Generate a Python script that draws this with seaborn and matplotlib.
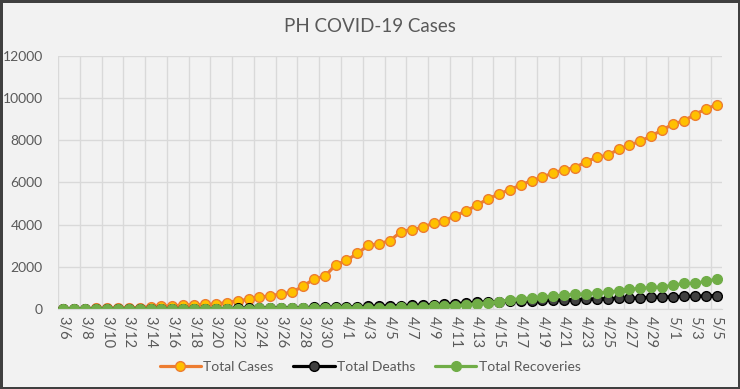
import matplotlib

matplotlib.use("Agg")
import matplotlib.pyplot as plt
import numpy as np
import pandas as pd
import seaborn as sns

# daily dates 3/6 .. 5/5 (category axis)
dates = pd.date_range("2020-03-06", "2020-05-05", freq="D")
date_labels = [f"{d.month}/{d.day}" for d in dates]

total_cases = [
    5, 6, 10, 24, 33, 49, 52, 64, 111, 140, 142, 187, 202, 217, 230, 307,
    380, 462, 552, 636, 707, 803, 1075, 1418, 1546, 2084, 2311, 2633, 3018,
    3094, 3246, 3660, 3764, 3870, 4076, 4195, 4428, 4648, 4932, 5223, 5453,
    5660, 5878, 6087, 6259, 6459, 6599, 6710, 6981, 7192, 7294, 7579, 7777,
    7958, 8212, 8488, 8772, 8928, 9223, 9485, 9684,
]
total_deaths = [
    1, 1, 1, 1, 1, 2, 5, 6, 8, 12, 12, 12, 17, 17, 18, 19, 25, 33, 35, 38,
    45, 54, 68, 71, 78, 88, 96, 107, 136, 144, 152, 163, 177, 182, 203, 221,
    247, 297, 315, 335, 349, 362, 387, 397, 409, 428, 437, 446, 462, 477,
    494, 501, 511, 530, 558, 568, 579, 603, 607, 623, 637,
]
total_recoveries = [
    1, 1, 1, 1, 1, 2, 2, 2, 2, 2, 2, 4, 5, 8, 8, 13, 15, 18, 26, 26, 28, 31,
    35, 42, 42, 49, 50, 51, 52, 57, 64, 73, 84, 96, 124, 140, 157, 197, 242,
    295, 353, 435, 487, 516, 572, 613, 654, 693, 722, 762, 792, 862, 932,
    975, 1023, 1043, 1124, 1214, 1214, 1315, 1408,
]

df = pd.DataFrame({
    "day": np.arange(len(dates)),
    "Total Cases": total_cases,
    "Total Deaths": total_deaths,
    "Total Recoveries": total_recoveries,
})

sns.set_style("white")
plt.rcParams["font.family"] = ["Lato", "DejaVu Sans"]

bg = "#F2F2F2"
grid_c = "#D9D9D9"
text_c = "#595959"

fig = plt.figure(figsize=(7.4, 3.89), dpi=100, facecolor=bg)
fig.patch.set_edgecolor("#404040")
fig.patch.set_linewidth(2.5)
ax = fig.add_axes([0.0784, 0.2057, 0.8973, 0.6503])
ax.set_facecolor(bg)

styles = [
    ("Total Cases", "#ED7D31", "#FFC000", "#ED7D31"),
    ("Total Deaths", "#000000", "#404040", "#000000"),
    ("Total Recoveries", "#70AD47", "#70AD47", "#70AD47"),
]
for col, lc, mfc, mec in styles:
    sns.lineplot(
        data=df, x="day", y=col, ax=ax, color=lc, linewidth=2.3,
        marker="o", markersize=7, markerfacecolor=mfc,
        markeredgecolor=mec, markeredgewidth=1.0, label=col,
    )

n = len(dates)
ax.set_xlim(-0.5, n - 0.5)
ax.set_ylim(0, 12000)
ax.set_yticks(range(0, 12001, 2000))
ax.set_xticks(np.arange(0, n, 2))
ax.set_xticklabels(date_labels[::2], rotation=-90)
ax.set_xticks(np.arange(-0.5, n - 1, 2), minor=True)
ax.tick_params(axis="x", which="major", length=0, pad=5, labelsize=10.5, colors=text_c)
ax.tick_params(axis="x", which="minor", length=4, color=grid_c, direction="out")
ax.tick_params(axis="y", length=0, pad=11, labelsize=10, colors=text_c)
ax.grid(True, axis="y", color=grid_c, linewidth=1)
ax.grid(True, axis="x", which="minor", color=grid_c, linewidth=1)
ax.set_axisbelow(True)
for s in ["top", "right", "left"]:
    ax.spines[s].set_visible(False)
ax.spines["bottom"].set_color(grid_c)
ax.set_xlabel("")
ax.set_ylabel("")

fig.suptitle("PH COVID-19 Cases", y=0.955, fontsize=13.5, color=text_c)

leg = ax.legend(
    loc="center", bbox_to_anchor=(0.5, 0.057), bbox_transform=fig.transFigure,
    ncol=3, frameon=False, fontsize=10, handlelength=3.0, handletextpad=0.15,
    columnspacing=1.4,
)
for t in leg.get_texts():
    t.set_color(text_c)

fig.savefig("out.png", dpi=100, facecolor=bg, edgecolor=fig.patch.get_edgecolor())
